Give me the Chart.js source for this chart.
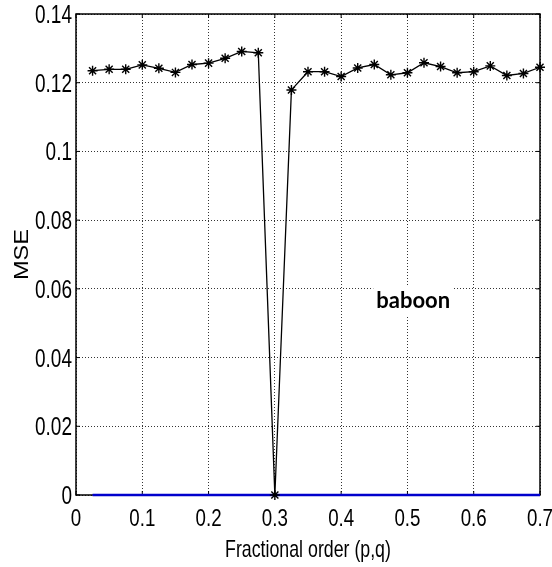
<!DOCTYPE html>
<html>
<head>
<meta charset="utf-8">
<script src="https://cdn.jsdelivr.net/npm/chart.js@4"></script>
<style>
  html, body { margin: 0; padding: 0; background: #fff; }
  #wrap { width: 552px; height: 567px; position: relative; }
</style>
</head>
<body>
<div id="wrap"><canvas id="mseChart"></canvas></div>
<script>
// fractional order (p,q) on the x axis
const orders = [0.025, 0.05, 0.075, 0.1, 0.125, 0.15, 0.175, 0.2, 0.225, 0.25, 0.275,
    0.3, 0.325, 0.35, 0.375, 0.4, 0.425, 0.45, 0.475, 0.5, 0.525, 0.55, 0.575,
    0.6, 0.625, 0.65, 0.675, 0.7];
// MSE values
const mseValues = [0.1235, 0.1239, 0.1239, 0.1252, 0.1242, 0.1230, 0.1253, 0.1257, 0.1271, 0.1291, 0.1287,
    0, 0.1179, 0.1232, 0.1232, 0.1218, 0.1243, 0.1253, 0.1223, 0.1229, 0.1258, 0.1247, 0.1229,
    0.1232, 0.1249, 0.1221, 0.1227, 0.1245];
// second (blue) series, flat at zero
const baseValues = [0, 0, 0, 0, 0, 0, 0, 0, 0, 0, 0, 0, 0, 0, 0, 0, 0, 0, 0, 0, 0, 0, 0, 0, 0, 0, 0, 0];
const xTicks = [0, 0.1, 0.2, 0.3, 0.4, 0.5, 0.6, 0.7];
const yTicks = [0, 0.02, 0.04, 0.06, 0.08, 0.1, 0.12, 0.14];
const xTitle = 'Fractional order (p,q)';
const yTitle = 'MSE';
const annotation = { text: 'baboon', x: 0.453, y: 0.0545 };

const fam = "'Liberation Sans', Arial, sans-serif";
const fmt = v => String(+v.toFixed(2));

// text squeezed horizontally, like the original figure's narrow font
function squeezed(ctx, text, x, y, sx, align, baseline) {
    ctx.save();
    ctx.translate(x, y);
    ctx.scale(sx, 1);
    ctx.textAlign = align;
    ctx.textBaseline = baseline;
    ctx.fillText(text, 0, 0);
    ctx.restore();
}

// box, inward ticks, tick labels, axis titles and the "baboon" label
const extras = {
    id: 'extras',
    beforeDatasetsDraw(chart) {
        const ctx = chart.ctx;
        const a = chart.chartArea;
        const xs = chart.scales.x, ys = chart.scales.y;
        ctx.save();
        ctx.strokeStyle = '#000';
        ctx.lineWidth = 1.5;
        ctx.strokeRect(a.left, a.top, a.right - a.left, a.bottom - a.top);
        ctx.lineWidth = 1;
        ctx.beginPath();
        xTicks.forEach(v => {
            const p = xs.getPixelForValue(v);
            ctx.moveTo(p, a.top); ctx.lineTo(p, a.top + 4);
            ctx.moveTo(p, a.bottom); ctx.lineTo(p, a.bottom - 4);
        });
        yTicks.forEach(v => {
            const p = ys.getPixelForValue(v);
            ctx.moveTo(a.left, p); ctx.lineTo(a.left + 4, p);
            ctx.moveTo(a.right, p); ctx.lineTo(a.right - 4, p);
        });
        ctx.stroke();
        ctx.restore();
    },
    afterDatasetsDraw(chart) {
        const ctx = chart.ctx;
        const a = chart.chartArea;
        const xs = chart.scales.x, ys = chart.scales.y;
        ctx.save();
        ctx.fillStyle = '#000';

        ctx.font = '24px ' + fam;
        xTicks.forEach(v => squeezed(ctx, fmt(v), xs.getPixelForValue(v), a.bottom + 31, 0.78, 'center', 'alphabetic'));
        ctx.font = '25px ' + fam;
        yTicks.forEach(v => squeezed(ctx, fmt(v), a.left - 4, ys.getPixelForValue(v) + 9, 0.76, 'right', 'alphabetic'));

        ctx.font = '24px ' + fam;
        squeezed(ctx, xTitle, (a.left + a.right) / 2, a.bottom + 62, 0.74, 'center', 'alphabetic');

        ctx.save();
        ctx.translate(28, (a.top + a.bottom) / 2);
        ctx.rotate(-Math.PI / 2);
        ctx.font = '21px ' + fam;
        squeezed(ctx, yTitle, 0, 0, 1.12, 'center', 'alphabetic');
        ctx.restore();

        const px = xs.getPixelForValue(annotation.x);
        const py = ys.getPixelForValue(annotation.y);
        ctx.font = "bold 22px Lato, 'Open Sans', sans-serif";
        const w = ctx.measureText(annotation.text).width;
        ctx.fillStyle = '#fff';
        ctx.fillRect(px - 3, py - 22, w + 6, 30);
        ctx.fillStyle = '#000';
        ctx.textAlign = 'left';
        ctx.textBaseline = 'alphabetic';
        ctx.fillText(annotation.text, px, py);
        ctx.restore();
    }
};

const ctx = document.getElementById('mseChart').getContext('2d');
new Chart(ctx, {
    type: 'line',
    data: {
        datasets: [{
            data: orders.map((x, i) => ({ x: x, y: mseValues[i] })),
            borderColor: '#000',
            borderWidth: 1.3,
            pointStyle: 'star',
            pointRadius: 5,
            pointBorderColor: '#000',
            pointBorderWidth: 1.4,
            tension: 0,
            clip: 8,
            order: 0
        }, {
            data: orders.map((x, i) => ({ x: x, y: baseValues[i] })),
            borderColor: '#0000cc',
            borderWidth: 2.5,
            pointRadius: 0,
            tension: 0,
            clip: 8,
            order: 1
        }]
    },
    options: {
        responsive: true,
        maintainAspectRatio: false,
        animation: false,
        layout: { padding: { left: 0, right: 12, top: 14, bottom: 0 } },
        plugins: {
            legend: { display: false },
            tooltip: { enabled: false }
        },
        scales: {
            x: {
                type: 'linear',
                min: 0,
                max: 0.7,
                afterBuildTicks: s => { s.ticks = xTicks.map(v => ({ value: v })); },
                afterFit: s => { s.height = 72; s.paddingLeft = 0; s.paddingRight = 0; },
                grid: { color: '#000', lineWidth: 0.8, drawTicks: false },
                border: { display: false, dash: [1, 2] },
                ticks: { display: false }
            },
            y: {
                min: 0,
                max: 0.14,
                afterBuildTicks: s => { s.ticks = yTicks.map(v => ({ value: v })); },
                afterFit: s => { s.width = 76; s.paddingTop = 0; s.paddingBottom = 0; },
                grid: { color: '#000', lineWidth: 0.8, drawTicks: false },
                border: { display: false, dash: [1, 2] },
                ticks: { display: false }
            }
        }
    },
    plugins: [extras]
});
</script>
</body>
</html>
